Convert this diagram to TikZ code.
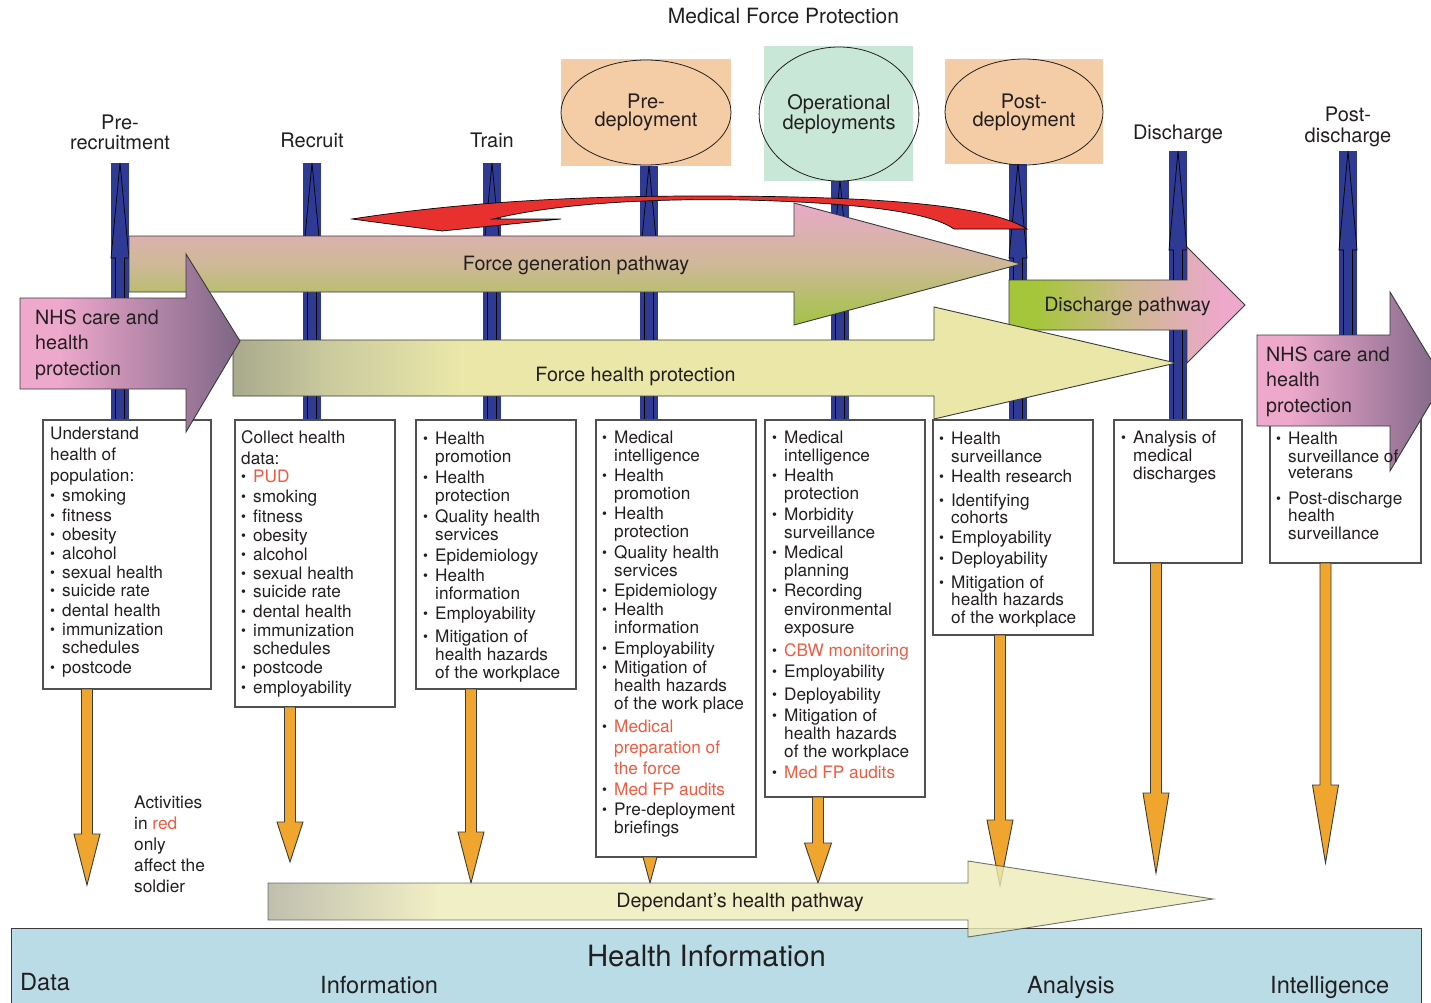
\documentclass[tikz,border=0pt]{standalone}
\usepackage{fontspec}
\setmainfont{TeX Gyre Heros}
\usetikzlibrary{shapes.geometric}

% palette
\definecolor{ink}{HTML}{231F20}
\definecolor{hired}{HTML}{EF5B40}
\definecolor{pillar}{HTML}{2E3A93}
\definecolor{peach}{HTML}{F4CDA6}
\definecolor{mint}{HTML}{C9E7D6}
\definecolor{infoblue}{HTML}{B9DCE6}
\definecolor{amber}{HTML}{F0A52E}
\definecolor{flame}{HTML}{E8312F}
\definecolor{rose}{HTML}{EDA8CC}
\definecolor{plum}{HTML}{7E6585}
\definecolor{leaf}{HTML}{A5C63A}
\definecolor{dischmid}{HTML}{CDB98E}
\definecolor{fgtop}{HTML}{E9A9C9}
\definecolor{fgmid}{HTML}{CFB898}
\definecolor{fgbot}{HTML}{A2C445}
\definecolor{fhpleft}{HTML}{A8AA8C}
\definecolor{fhpmid}{HTML}{CACA9E}
\definecolor{fhpright}{HTML}{EAE7A8}
\definecolor{depleft}{HTML}{B1B09B}
\definecolor{depright}{HTML}{EEEBB7}
\definecolor{boxline}{HTML}{505050}
\definecolor{edgegrey}{HTML}{3A3A3A}

% band shadings (the path's bounding box maps to 25bp..75bp)
\pgfdeclareverticalshading{fgshade}{100bp}{color(0bp)=(fgbot); color(25bp)=(fgbot); color(50bp)=(fgmid); color(75bp)=(fgtop); color(100bp)=(fgtop)}
\pgfdeclarehorizontalshading{fhpshade}{100bp}{color(0bp)=(fhpleft); color(25bp)=(fhpleft); color(30bp)=(fhpmid); color(37bp)=(fhpright); color(100bp)=(fhpright)}
\pgfdeclarehorizontalshading{depshade}{100bp}{color(0bp)=(depleft); color(25bp)=(depleft); color(34bp)=(depright); color(100bp)=(depright)}
\pgfdeclarehorizontalshading{dischshade}{100bp}{color(0bp)=(leaf); color(31bp)=(leaf); color(50bp)=(dischmid); color(70bp)=(rose); color(100bp)=(rose)}
\pgfdeclarehorizontalshading{nhsshade}{100bp}{color(0bp)=(rose); color(34bp)=(rose); color(75bp)=(plum); color(100bp)=(plum)}

\newcommand\boxfont{\fontsize{17.2}{18}\selectfont}
\newcommand\bu{\makebox[12pt][l]{\raisebox{1.2pt}{\fontsize{14}{14}\selectfont\textbullet}}}
\newcommand\ct{\hspace*{12pt}}
\newcommand\rtx[1]{\textcolor{hired}{#1}}

% vertical phase bar: x, top, bottom, head length
\newcommand\Pillar[4]{%
  \fill[pillar] (#1-9,#2) rectangle (#1+9,#3);
  \draw[pillarline] (#1-4.5,#3) -- (#1-4.5,#2+#4) -- (#1-9,#2+#4) -- (#1,#2)
    -- (#1+9,#2+#4) -- (#1+4.5,#2+#4) -- (#1+4.5,#3);}

% downward block arrow: start, shaft length, head length, head half width
\newcommand\Drop[4]{%
  \filldraw[orarrow] (#1) ++(-5.5,0) -- ++(0,#2) -- ++({-(#4-5.5)},0) -- ++(#4,#3)
    -- ++(#4,-#3) -- ++({-(#4-5.5)},0) -- ++(0,-#2) -- cycle;}

\begin{document}
\begin{tikzpicture}[x=1pt,y=-1pt,
  lbl/.style={font=\fontsize{20}{18.5}\selectfont, text=ink, align=center, inner sep=0pt},
  bandtxt/.style={font=\fontsize{19.7}{20}\selectfont, text=ink, inner sep=0pt, anchor=base},
  nhstxt/.style={font=\fontsize{19.7}{25.5}\selectfont, text=ink, align=left, inner sep=0pt, anchor=north west},
  infotxt/.style={font=\fontsize{23.6}{24}\selectfont, text=ink, inner sep=0pt, anchor=base west},
  boxst/.style={draw=boxline, line width=1.2pt, fill=white, anchor=north west, inner sep=0pt, outer sep=0pt},
  boxtxt/.style={font=\boxfont, text=ink, align=left, inner sep=0pt, anchor=north west},
  bandedge/.style={draw=edgegrey, line width=0.9pt},
  pillarline/.style={draw=black, line width=0.7pt},
  orarrow/.style={fill=amber, draw=edgegrey, line width=0.9pt},
  phase/.style={ellipse, draw=ink, line width=0.8pt, inner sep=0pt, align=center,
    font=\fontsize{20}{18}\selectfont, text=ink},
  phasebg/.style={inner sep=0pt, outer sep=0pt}]

\useasboundingbox (0,0) rectangle (1431,1003);
\clip (0,0) rectangle (1431,1003);
\fill[white] (0,0) rectangle (1431,1003);

% headings
\node[lbl, font=\fontsize{21}{21}\selectfont, anchor=base] (title) at (783.5,23.5) {Medical Force Protection};
\node[lbl, anchor=north] (hPre) at (120,114.5) {\strut Pre-\\recruitment};
\node[lbl, anchor=base] (hRec) at (312,148) {Recruit};
\node[lbl, anchor=base] (hTrain) at (492,148) {Train};
\node[lbl, anchor=base] (hDis) at (1178,140) {Discharge};
\node[lbl, anchor=north] (hPost) at (1348,107) {\strut Post-\\discharge};

% phase bars
\Pillar{120}{163}{420}{95}
\Pillar{312}{163}{420}{95}
\Pillar{492}{163}{420}{95}
\Pillar{649}{165}{420}{95}
\Pillar{840}{180}{420}{95}
\Pillar{1018}{163}{420}{95}
\Pillar{1178}{151}{420}{99}
\Pillar{1348}{151}{420}{99}

% deployment phases
\node[phasebg, fill=peach, minimum width=170, minimum height=107] (bgPre) at (646,112.3) {};
\node[phasebg, fill=mint, minimum width=149, minimum height=135] (bgOp) at (838.5,113.5) {};
\node[phasebg, fill=peach, minimum width=158, minimum height=105] (bgPost) at (1023.5,111.5) {};
\node[phase, minimum width=170, minimum height=105] (preDep) at (646,112.5) {Pre-\\deployment};
\node[phase, minimum width=148, minimum height=134] (opDep) at (839,114) {Operational\\deployments};
\node[phase, minimum width=158, minimum height=106] (postDep) at (1024,112) {Post-\\deployment};

% curved return arrow
\filldraw[fill=flame, draw=black, line width=0.7pt]
  (352,219) .. controls (450,204) and (560,196) .. (700,196)
  .. controls (850,196) and (985,202) .. (1027,229)
  -- (954,229)
  .. controls (930,212) and (860,203) .. (745,200)
  .. controls (640,198) and (550,205) .. (493,219)
  -- (561,219) -- (442,231) -- cycle;

% force generation pathway
\shadedraw[shading=fgshade, bandedge]
  (129,236) -- (794,236) -- (794,203) -- (1021,264) -- (794,325) -- (794,292) -- (129,292) -- cycle;
\node[bandtxt] (fgp) at (576,270) {Force generation pathway};

% discharge pathway
\shadedraw[shading=dischshade, bandedge]
  (1009,280) -- (1187,280) -- (1187,247) -- (1245,305) -- (1187,363) -- (1187,330) -- (1009,330) -- cycle;
\node[bandtxt] (dsp) at (1127.5,311) {Discharge pathway};

% force health protection
\shadedraw[shading=fhpshade, bandedge]
  (233,340) -- (934,340) -- (934,307) -- (1176,363) -- (934,419) -- (934,396) -- (233,396) -- cycle;
\node[bandtxt] (fhp) at (635.5,381) {Force health protection};

% activity boxes
\node[boxst, minimum width=168, minimum height=269] (b1) at (43,420) {};
\node[boxst, minimum width=160, minimum height=287] (b2) at (235,420) {};
\node[boxst, minimum width=160, minimum height=269] (b3) at (416,420) {};
\node[boxst, minimum width=160, minimum height=437] (b4) at (596,420) {};
\node[boxst, minimum width=160, minimum height=377] (b5) at (765,420) {};
\node[boxst, minimum width=160, minimum height=215] (b6) at (933,420) {};
\node[boxst, minimum width=128, minimum height=143] (b7) at (1114,420) {};
\node[boxst, minimum width=151, minimum height=143] (b8) at (1270,420) {};

% flows from the boxes down to the health information layer
\coordinate (x1) at (87,0);
\coordinate (x2) at (290,0);
\coordinate (x3) at (471,0);
\coordinate (x4) at (650,0);
\coordinate (x5) at (818,0);
\coordinate (x6) at (1000,0);
\coordinate (x7) at (1156,0);
\coordinate (x8) at (1325.5,0);
\Drop{b1.south -| x1}{145}{51}{13}
\Drop{b2.south -| x2}{115}{40}{13}
\Drop{b3.south -| x3}{143}{51}{13}
\Drop{b4.south -| x4}{0}{26}{7}
\Drop{b5.south -| x5}{46}{40}{13.5}
\Drop{b6.south -| x6}{185}{66}{13}
\Drop{b7.south -| x7}{230}{80}{13}
\Drop{b8.south -| x8}{222}{78}{13}

% NHS care arrows
\shadedraw[shading=nhsshade, bandedge]
  (20,298) -- (186,298) -- (186,254) -- (240,341) -- (186,432) -- (186,389) -- (20,389) -- cycle;
\node[nhstxt] (nhsL) at (35,306) {\strut NHS care and\\health\\protection};
\shadedraw[shading=nhsshade, bandedge]
  (1257,335) -- (1390,335) -- (1390,292) -- (1444,381) -- (1390,471) -- (1390,426) -- (1257,426) -- cycle;
\node[nhstxt] (nhsR) at (1266,343) {\strut NHS care and\\health\\protection};

% box contents
\node[boxtxt] (t1) at (50,426.5) {\strut Understand\\[3.5pt]
  health of\\[3pt] population:\\[2pt] \bu smoking\\[2pt] \bu fitness\\[1pt]
  \bu obesity\\[1pt] \bu alcohol\\[1pt] \bu sexual health\\ \bu suicide rate\\[2pt]
  \bu dental health\\[1pt] \bu immunization\\ \ct schedules\\[2pt] \bu postcode};
\node[boxtxt] (t2) at (241,430.5) {\strut Collect health\\[3pt] data:\\
  \bu \rtx{PUD}\\[2pt] \bu smoking\\[2pt] \bu fitness\\[1pt] \bu obesity\\[1pt]
  \bu alcohol\\[1pt] \bu sexual health\\ \bu suicide rate\\[2pt] \bu dental health\\[1pt]
  \bu immunization\\ \ct schedules\\[1pt] \bu postcode\\[2pt] \bu employability};
\node[boxtxt] (t3) at (423,431.5) {\strut\bu Health\\ \ct promotion\\[3pt]
  \bu Health\\ \ct protection\\[3pt] \bu Quality health\\ \ct services\\[3pt]
  \bu Epidemiology\\[2pt] \bu Health\\ \ct information\\[2pt] \bu Employability\\[5pt]
  \bu Mitigation of\\ \ct health hazards\\ \ct of the workplace};
\node[boxtxt] (t4) at (602,430.5) {\strut\bu Medical\\ \ct intelligence\\[2pt]
  \bu Health\\ \ct promotion\\[2pt] \bu Health\\ \ct protection\\[3pt]
  \bu Quality health\\ \ct services\\[2pt] \bu Epidemiology\\[1pt] \bu Health\\
  \ct information\\[3pt] \bu Employability\\[1pt] \bu Mitigation of\\
  \ct health hazards\\ \ct of the work place\\[5pt] \bu \rtx{Medical}\\[3pt]
  \ct\rtx{preparation of}\\[3pt] \ct\rtx{the force}\\[3pt] \bu \rtx{Med FP audits}\\[2pt]
  \bu Pre-deployment\\ \ct briefings};
\node[boxtxt] (t5) at (772,431) {\strut\bu Medical\\ \ct intelligence\\[2pt]
  \bu Health\\ \ct protection\\[3pt] \bu Morbidity\\ \ct surveillance\\[2pt]
  \bu Medical\\ \ct planning\\[2pt] \bu Recording\\[1pt] \ct environmental\\
  \ct exposure\\[5pt] \bu \rtx{CBW monitoring}\\[3pt] \bu Employability\\[5pt]
  \bu Deployability\\[3pt] \bu Mitigation of\\ \ct health hazards\\
  \ct of the workplace\\[3pt] \bu \rtx{Med FP audits}};
\node[boxtxt] (t6) at (939,431.5) {\strut\bu Health\\ \ct surveillance\\[2pt]
  \bu Health research\\[6pt] \bu Identifying\\[-1pt] \ct cohorts\\[2pt]
  \bu Employability\\[3pt] \bu Deployability\\[6pt] \bu Mitigation of\\[-1pt]
  \ct health hazards\\ \ct of the workplace};
\node[boxtxt] (t7) at (1121,430.5) {\strut\bu Analysis of\\ \ct medical\\ \ct discharges};
\node[boxtxt] (t8) at (1276,431.5) {\strut\bu Health\\ \ct surveillance of\\[-2pt]
  \ct veterans\\[8pt] \bu Post-discharge\\[-1pt] \ct health\\ \ct surveillance};

% note
\node[boxtxt, font=\fontsize{17.3}{21.2}\selectfont] (note) at (134,793)
  {\strut Activities\\in \rtx{red}\\only\\affect the\\soldier};

% health information layer
\node[draw=edgegrey, line width=0.9pt, fill=infoblue, anchor=north west, inner sep=0pt,
  minimum width=1410, minimum height=80] (info) at (11,928) {};
\node[lbl, font=\fontsize{29.3}{30}\selectfont, anchor=base] (infoT) at (706.5,966.5) {Health Information};
\node[infotxt] (iData) at (20,990.5) {Data};
\node[infotxt] (iInfo) at (320,993.5) {Information};
\node[infotxt] (iAna) at (1027,993.5) {Analysis};
\node[infotxt] (iInt) at (1270,993.5) {Intelligence};

% dependant's health pathway (translucent)
\shadedraw[shading=depshade, draw=edgegrey, line width=0.9pt, fill opacity=0.8, draw opacity=0.7]
  (268,883) -- (968,883) -- (968,861) -- (1213,899) -- (968,937) -- (968,920) -- (268,920) -- cycle;
\node[bandtxt] (dep) at (740,907) {Dependant’s health pathway};

\end{tikzpicture}
\end{document}
